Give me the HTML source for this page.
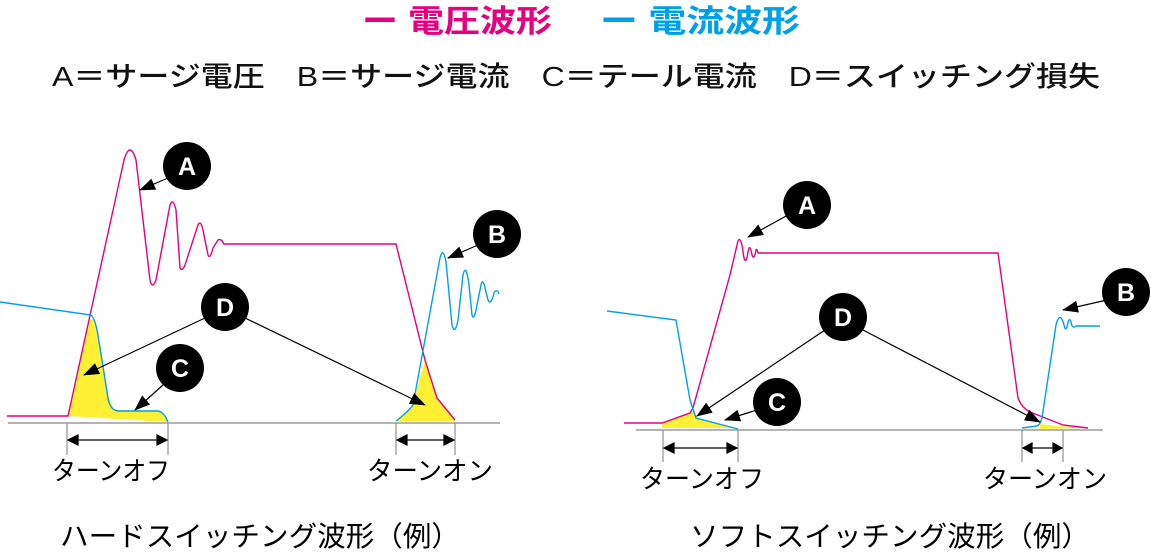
<!DOCTYPE html>
<html><head><meta charset="utf-8"><style>
body{margin:0;background:#fff;width:1151px;height:554px;overflow:hidden}
svg{display:block}
text{font-family:"Liberation Sans","Noto Sans CJK JP",sans-serif}
</style></head><body>
<svg width="1151" height="554" viewBox="0 0 1151 554">
<defs><marker id="ar" markerWidth="16" markerHeight="12" refX="15" refY="6" orient="auto" markerUnits="userSpaceOnUse"><path d="M0,0L16,6L0,12z" fill="#000"/></marker></defs>
<text x="362" y="32" font-size="31" font-weight="bold" fill="#e4007f" textLength="190" lengthAdjust="spacingAndGlyphs">ー 電圧波形</text>
<text x="600" y="32" font-size="31" font-weight="bold" fill="#00a0e9" textLength="200" lengthAdjust="spacingAndGlyphs">ー 電流波形</text>
<text x="52" y="86" font-size="28" font-weight="500" fill="#111" textLength="1048" lengthAdjust="spacingAndGlyphs">A＝サージ電圧　B＝サージ電流　C＝テール電流　D＝スイッチング損失</text>

<!-- left panel -->
<polygon points="68,416 90,320 94,318 100,345 108,395 114,410 160,411 168,422" fill="#fff033"/>
<polygon points="396,421 413,405 425,360 437,398 455,421" fill="#fff033"/>
<line x1="8" y1="423" x2="500" y2="423" stroke="#888" stroke-width="1.3"/>
<path d="M7,416 L68,416 L124,160 Q130,140 136,160 L150,280 Q152,290 156,280 L170,205 Q173,197 176,210 L180,268 Q182,272 185,265 L198,225 Q201,218 204,235 L208,255 Q210,260 213,248 L218,240 Q221,238 224,244 L396,244 L425,360 L437,398 L455,420" fill="none" stroke="#e4007f" stroke-width="1.4"/>
<path d="M0,302 L91,315 Q95,318 98,335 L108,398 Q110,410 118,411 L158,411 Q164,412 168,422" fill="none" stroke="#00a0e9" stroke-width="1.4"/>
<path d="M396,421 Q408,412 413,405 L440,258 Q443,246 446,262 L452,325 Q455,336 458,320 L463,275 Q466,262 469,285 L472,315 Q474,322 477,305 L481,285 Q483,276 486,292 L488,300 Q491,306 494,293 Q497,288 499,294" fill="none" stroke="#00a0e9" stroke-width="1.4"/>
<g stroke="#999" stroke-width="1.3"><line x1="67" y1="423" x2="67" y2="455"/><line x1="168" y1="423" x2="168" y2="455"/><line x1="396" y1="423" x2="396" y2="455"/><line x1="455" y1="423" x2="455" y2="455"/></g>
<g stroke="#000" stroke-width="1.2">
<line x1="78" y1="440" x2="157" y2="440"/><path d="M68,440l10,-5v10z M167,440l-10,-5v10z" fill="#000"/>
<line x1="406" y1="440" x2="445" y2="440"/><path d="M397,440l10,-5v10z M454,440l-10,-5v10z" fill="#000"/>
<line x1="168" y1="178" x2="140" y2="190" marker-end="url(#ar)"/>
<line x1="478" y1="245" x2="448" y2="258" marker-end="url(#ar)"/>
<line x1="205" y1="318" x2="84" y2="375" marker-end="url(#ar)"/>
<line x1="245" y1="318" x2="425" y2="405" marker-end="url(#ar)"/>
<line x1="163" y1="385" x2="135" y2="410" marker-end="url(#ar)"/>
</g>
<g fill="#000"><circle cx="187" cy="166" r="24"/><circle cx="497" cy="234" r="24"/><circle cx="225" cy="307" r="24"/><circle cx="180" cy="368" r="24"/></g>
<g fill="#fff" font-size="25" font-weight="bold" text-anchor="middle"><text x="187" y="175">A</text><text x="497" y="243">B</text><text x="225" y="316">D</text><text x="180" y="377">C</text></g>
<text x="52" y="480" font-size="26" textLength="118" lengthAdjust="spacingAndGlyphs">ターンオフ</text>
<text x="367" y="480" font-size="26" textLength="126" lengthAdjust="spacingAndGlyphs">ターンオン</text>
<text x="60" y="546" font-size="28" textLength="400" lengthAdjust="spacingAndGlyphs">ハードスイッチング波形（例）</text>

<!-- right panel -->
<polygon points="662,423 690,413 694,410 698,418 736,428 662,428" fill="#fff033"/>
<polygon points="1040,424 1057,426 1075,427 1088,428 1040,429" fill="#fff033"/>
<line x1="636" y1="430" x2="1103" y2="430" stroke="#888" stroke-width="1.3"/>
<path d="M624,423 L662,423 L690,413 L693,408 L730,275 L737,245 Q739,234 742,245 L744,258 Q746,265 748,252 Q750,242 752,255 Q754,261 756,250 Q757,248 758,253 L998,253 L1018,398 Q1022,408 1030,412 L1063,425 L1088,428" fill="none" stroke="#e4007f" stroke-width="1.4"/>
<path d="M607,311 L676,320 L690,400 L696,418 L738,429" fill="none" stroke="#00a0e9" stroke-width="1.4"/>
<path d="M1022,428 L1037,426 Q1040,425 1042,418 L1056,325 Q1060,310 1064,325 Q1066,334 1068,322 Q1070,316 1072,326 Q1074,328 1076,326 L1100,326" fill="none" stroke="#00a0e9" stroke-width="1.4"/>
<g stroke="#999" stroke-width="1.3"><line x1="663" y1="430" x2="663" y2="462"/><line x1="738" y1="430" x2="738" y2="462"/><line x1="1022" y1="430" x2="1022" y2="462"/><line x1="1063" y1="430" x2="1063" y2="462"/></g>
<g stroke="#000" stroke-width="1.2">
<line x1="673" y1="448" x2="728" y2="448"/><path d="M664,448l10,-5v10z M737,448l-10,-5v10z" fill="#000"/>
<line x1="1031" y1="448" x2="1054" y2="448"/><path d="M1023,448l9,-5v10z M1062,448l-9,-5v10z" fill="#000"/>
<line x1="788" y1="215" x2="748" y2="237" marker-end="url(#ar)"/>
<line x1="1107" y1="300" x2="1063" y2="310" marker-end="url(#ar)"/>
<line x1="825" y1="330" x2="697" y2="416" marker-end="url(#ar)"/>
<line x1="863" y1="330" x2="1040" y2="422" marker-end="url(#ar)"/>
<line x1="757" y1="410" x2="725" y2="420" marker-end="url(#ar)"/>
</g>
<g fill="#000"><circle cx="807" cy="205" r="24"/><circle cx="1126" cy="292" r="24"/><circle cx="843" cy="317" r="24"/><circle cx="777" cy="402" r="24"/></g>
<g fill="#fff" font-size="25" font-weight="bold" text-anchor="middle"><text x="807" y="214">A</text><text x="1126" y="301">B</text><text x="843" y="326">D</text><text x="777" y="411">C</text></g>
<text x="640" y="488" font-size="26" textLength="124" lengthAdjust="spacingAndGlyphs">ターンオフ</text>
<text x="983" y="488" font-size="26" textLength="124" lengthAdjust="spacingAndGlyphs">ターンオン</text>
<text x="690" y="546" font-size="28" textLength="400" lengthAdjust="spacingAndGlyphs">ソフトスイッチング波形（例）</text>
</svg>
</body></html>
